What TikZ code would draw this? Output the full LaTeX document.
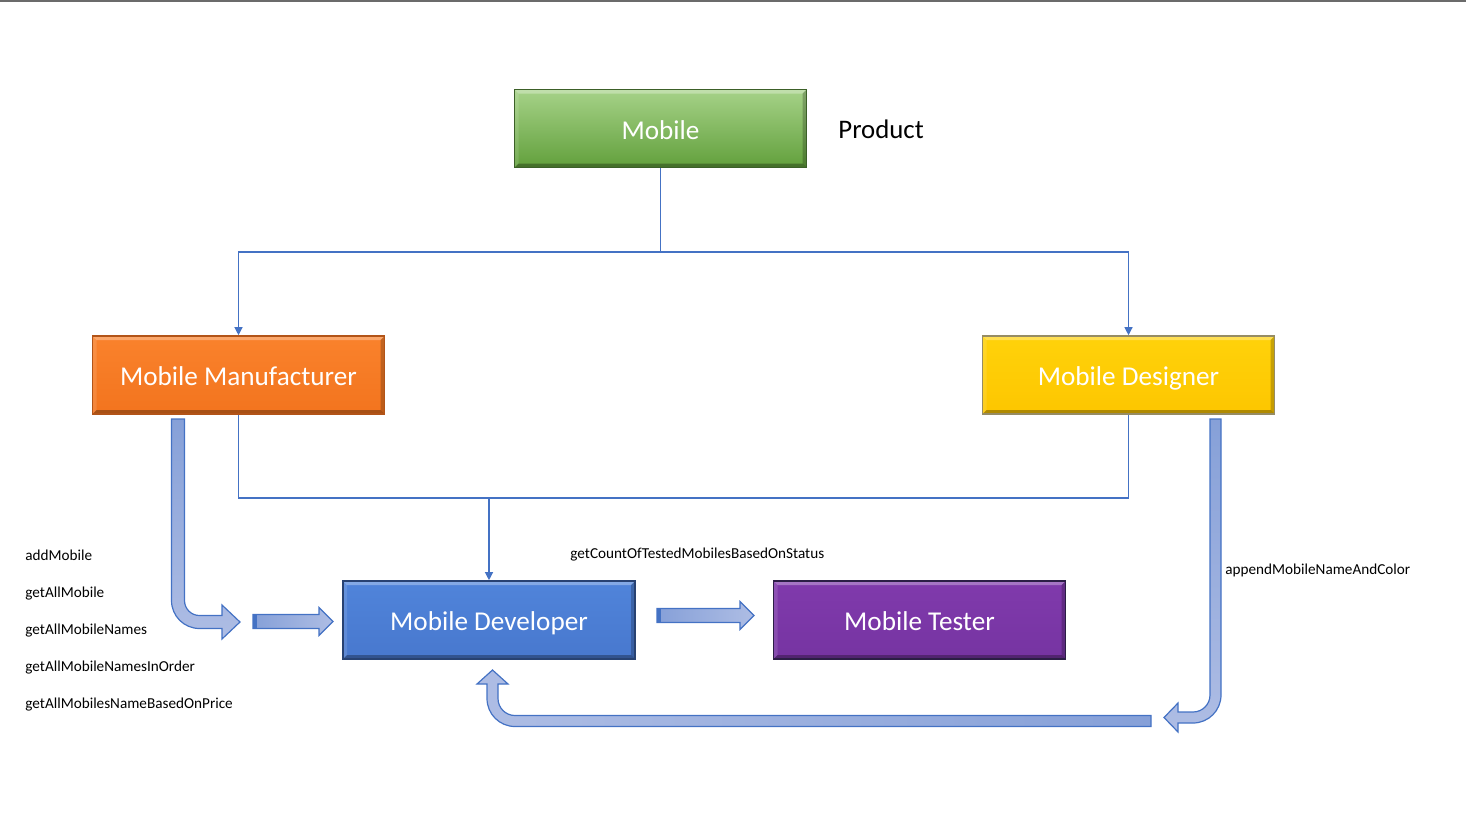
\documentclass[tikz,border=0pt]{standalone}
\usepackage{fontspec}
\setmainfont{Carlito}
\usetikzlibrary{arrows.meta}

\definecolor{linkblue}{HTML}{4472C4}
\definecolor{arrowdark}{HTML}{86A0D8}
\definecolor{arrowlight}{HTML}{AEBDE4}

\tikzset{
  bevel/.style={path picture={
    \fill[white,opacity=.3] (path picture bounding box.north west) -- (path picture bounding box.north east)
      -- ([xshift=-2pt,yshift=-2pt]path picture bounding box.north east) -- ([xshift=2pt,yshift=-2pt]path picture bounding box.north west) -- cycle;
    \fill[white,opacity=.12] (path picture bounding box.north west) -- (path picture bounding box.south west)
      -- ([xshift=2pt,yshift=2pt]path picture bounding box.south west) -- ([xshift=2pt,yshift=-2pt]path picture bounding box.north west) -- cycle;
    \fill[black,opacity=.3] (path picture bounding box.south west) -- (path picture bounding box.south east)
      -- ([xshift=-2pt,yshift=2pt]path picture bounding box.south east) -- ([xshift=2pt,yshift=2pt]path picture bounding box.south west) -- cycle;
    \fill[black,opacity=.22] (path picture bounding box.north east) -- (path picture bounding box.south east)
      -- ([xshift=-2pt,yshift=2pt]path picture bounding box.south east) -- ([xshift=-2pt,yshift=-2pt]path picture bounding box.north east) -- cycle;
  }},
  box/.style={draw, line width=0.8pt, bevel, minimum width=146pt, minimum height=39pt, inner sep=0pt,
    text height=12.2pt, text depth=1.4pt, text=white, font=\fontsize{13.6}{16}\selectfont},
  link/.style={draw=linkblue, line width=0.6pt},
  tip/.style={-{Triangle[length=4pt,width=4pt]}},
  block/.style={draw=linkblue, line width=0.6pt, line join=miter},
  lbl/.style={anchor=west, inner sep=0pt, text height=7pt, text depth=1.2pt, font=\fontsize{7.6}{9}\selectfont}
}

\begin{document}
\begin{tikzpicture}[x=0.5pt,y=-0.5pt]
  \useasboundingbox (0,0) rectangle (1466,825);
  \fill[black!58] (0,0) rectangle (1466,2);

  % boxes
  \node[box, draw={rgb,255:red,60;green,96;blue,40}, top color={rgb,255:red,166;green,210;blue,136}, bottom color={rgb,255:red,98;green,160;blue,60}] (MB) at (660.5,128.5) {Mobile};
  \node[box, draw={rgb,255:red,178;green,84;blue,24}, top color={rgb,255:red,250;green,130;blue,44}, bottom color={rgb,255:red,242;green,116;blue,30}] (MM) at (238.5,375) {Mobile Manufacturer};
  \node[box, draw={rgb,255:red,150;green,140;blue,100}, top color={rgb,255:red,255;green,210;blue,10}, bottom color={rgb,255:red,253;green,198;blue,0}] (MD) at (1128.5,375) {Mobile Designer};
  \node[box, draw={rgb,255:red,40;green,66;blue,114}, top color={rgb,255:red,80;green,132;blue,218}, bottom color={rgb,255:red,72;green,120;blue,206}] (MV) at (489,620) {Mobile Developer};
  \node[box, draw={rgb,255:red,44;green,30;blue,70}, top color={rgb,255:red,128;green,58;blue,172}, bottom color={rgb,255:red,118;green,52;blue,162}] (MT) at (919.5,620) {Mobile Tester};
  \node[anchor=west, inner sep=0pt, text height=10.5pt, text depth=1.8pt, font=\fontsize{13.4}{16}\selectfont] (PR) at (838,129.5) {Product};

  % thin connectors
  \coordinate (split) at (MB.south |- 0,252);
  \draw[link] (MB.south) -- (split);
  \draw[link,tip] (split) -| (MM.north);
  \draw[link,tip] (split) -| (MD.north);
  \coordinate (join) at (MV.north |- 0,498);
  \draw[link] (MM.south) |- (join) -| (MD.south);
  \draw[link,tip] (join) -- (MV.north);

  % block arrows
  \draw[block, top color=arrowdark, bottom color=arrowlight] (171.5,419) -- (184.5,419) -- (184.5,600.5)
    .. controls (184.5,608.8) and (191.2,615.5) .. (199.5,615.5) -- (222,615.5) -- (222,605) -- (240,622)
    -- (222,639) -- (222,628.5) -- (199.5,628.5) .. controls (184,628.5) and (171.5,616) .. (171.5,600.5) -- cycle;
  \draw[block, left color=arrowdark, right color=arrowlight] (253,614.5) -- (319,614.5) -- (319,607.5) -- (333,621.5)
    -- (319,635.5) -- (319,628.5) -- (253,628.5) -- cycle;
  \fill[linkblue] (253,614.5) rectangle (257,628.5);
  \draw[block, left color=arrowdark, right color=arrowlight] (657,608.5) -- (740,608.5) -- (740,601.5) -- (754,615.5)
    -- (740,629.5) -- (740,622.5) -- (657,622.5) -- cycle;
  \fill[linkblue] (657,608.5) rectangle (661,622.5);
  \draw[block, top color=arrowdark, bottom color=arrowlight] (1210,419) -- (1221,419) -- (1221,695)
    .. controls (1221,710.5) and (1208.5,723) .. (1193,723) -- (1178,723) -- (1178,732) -- (1164,717.5)
    -- (1178,703) -- (1178,712) -- (1193,712) .. controls (1202.4,712) and (1210,704.4) .. (1210,695) -- cycle;
  \draw[block, left color=arrowlight, right color=arrowdark] (1151,715.5) -- (1151,726.5) -- (515,726.5)
    .. controls (499.5,726.5) and (487,714) .. (487,698.5) -- (487,684) -- (477,684) -- (492.5,670)
    -- (508,684) -- (498,684) -- (498,698.5) .. controls (498,707.9) and (505.6,715.5) .. (515,715.5) -- cycle;

  % method labels
  \node[lbl] (L1) at (25,555) {addMobile};
  \node[lbl] (L2) at (25,592) {getAllMobile};
  \node[lbl] (L3) at (25,629) {getAllMobileNames};
  \node[lbl] (L4) at (25,665.5) {getAllMobileNamesInOrder};
  \node[lbl] (L5) at (25,702.5) {getAllMobilesNameBasedOnPrice};
  \node[lbl] (L6) at (570,552.5) {getCountOfTestedMobilesBasedOnStatus};
  \node[lbl] (L7) at (1225,568.5) {appendMobileNameAndColor};
\end{tikzpicture}
\end{document}
